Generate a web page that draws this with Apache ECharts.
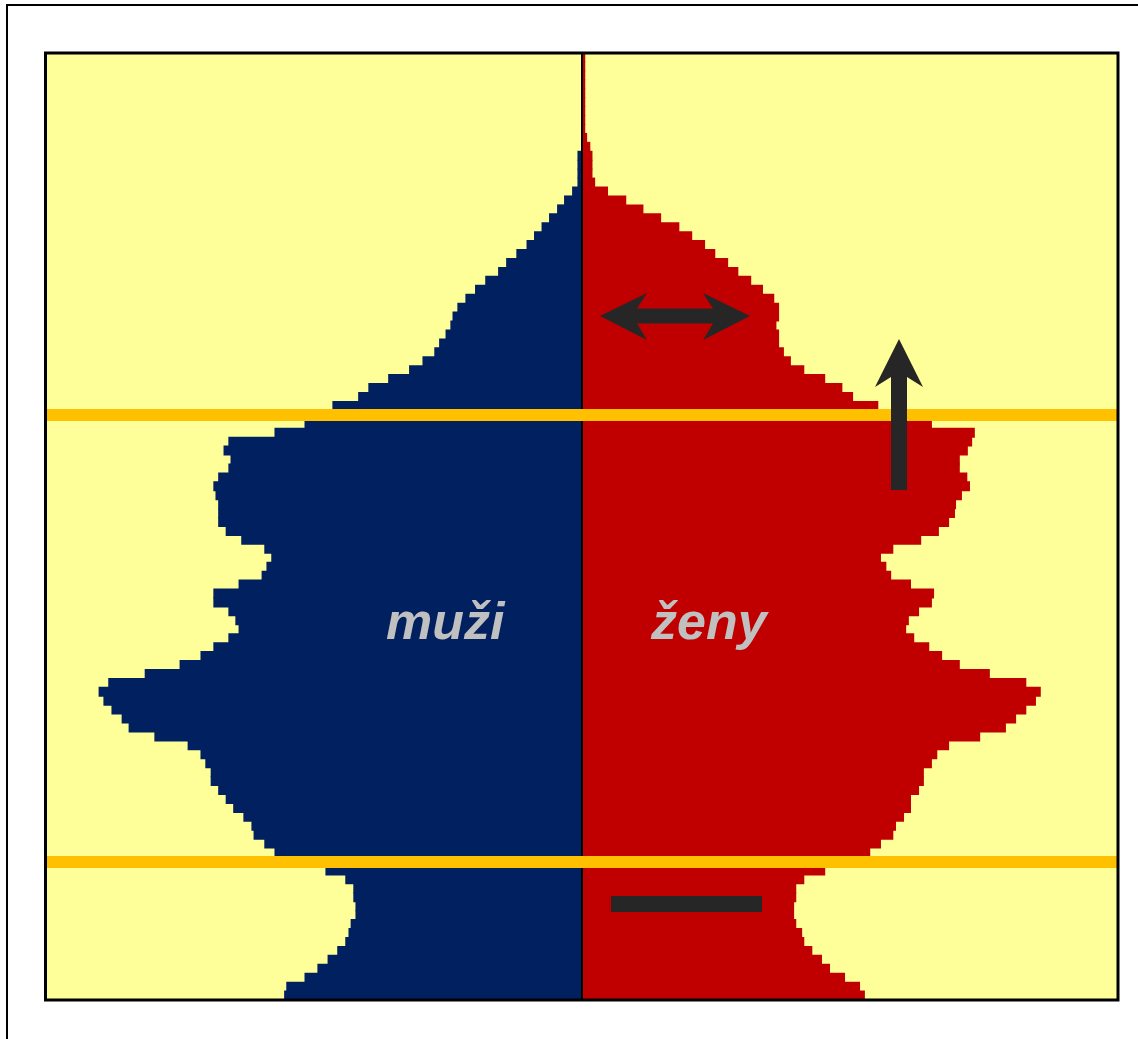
<!DOCTYPE html>
<html>
<head>
<meta charset="utf-8">
<script src="https://cdn.jsdelivr.net/npm/echarts@6/dist/echarts.min.js"></script>
<style>
  html, body { margin: 0; padding: 0; background: #ffffff; }
  #chart { width: 1138px; height: 1039px; }
</style>
</head>
<body>
<div id="chart"></div>
<script>
// Věkové skupiny 0–105 let (zdola nahoru)
const ages = [];
for (let a = 0; a <= 105; a++) ages.push(String(a));

// Počet mužů podle věku (tis. osob)
const male = [
  55.5, 55.1, 51.7, 49.3, 47.4, 45.6, 44.1, 43.5, 43.1, 42.2,
  42.2, 42.6, 42.6, 44.1, 47.8, 54.3, 57.3, 59.2, 61.2, 61.6,
  63.1, 65.0, 66.4, 67.8, 69.2, 69.2, 70.2, 71.1, 73.5, 79.7,
  84.5, 85.8, 87.7, 89.2, 90.1, 88.3, 81.5, 75.0, 71.1, 68.7,
  65.9, 64.0, 64.6, 65.9, 68.7, 68.7, 64.0, 59.7, 58.8, 57.9,
  59.2, 63.5, 66.4, 67.8, 67.8, 67.8, 68.3, 68.7, 67.8, 65.9,
  65.5, 66.8, 65.9, 57.3, 51.7, 48.7, 46.5, 41.7, 39.8, 36.1,
  32.2, 29.7, 27.5, 26.6, 25.4, 24.5, 24.1, 23.2, 21.7, 19.9,
  18.0, 15.6, 14.1, 12.2, 10.3, 8.9, 7.5, 6.1, 4.6, 3.3,
  1.8, 0.8, 0.8, 0.8, 0.8, 0, 0, 0, 0, 0,
  0, 0, 0, 0, 0, 0
];

// Počet žen podle věku (tis. osob)
const female = [
  52.8, 51.9, 49.1, 46.3, 44.8, 43.0, 41.5, 41.1, 40.0, 39.6,
  39.6, 40.0, 40.0, 41.5, 45.4, 50.0, 53.8, 55.8, 58.1, 58.6,
  60.1, 61.4, 61.4, 62.9, 63.8, 63.8, 65.3, 66.3, 68.5, 74.3,
  79.1, 81.0, 82.9, 84.7, 85.6, 82.9, 76.1, 70.5, 67.2, 64.8,
  62.0, 60.5, 61.0, 62.9, 65.3, 65.7, 61.4, 57.7, 56.8, 55.8,
  58.1, 63.3, 66.6, 68.5, 69.6, 69.8, 70.9, 72.4, 71.9, 70.5,
  70.5, 72.0, 72.8, 73.3, 65.3, 60.3, 55.3, 50.6, 48.6, 45.4,
  41.5, 39.0, 37.7, 36.8, 36.8, 36.3, 36.8, 36.8, 35.9, 33.8,
  31.6, 29.2, 27.3, 24.9, 23.0, 20.6, 18.2, 14.8, 11.5, 8.3,
  4.9, 2.5, 2.0, 2.0, 2.0, 1.6, 1.0, 0.65, 0.65, 0.65,
  0.65, 0.65, 0.65, 0.65, 0.65, 0.65
];

// Hranice produktivního věku
const boundaryAges = ['15', '65'];

const BLUE = '#002060';
const RED = '#C00000';
const ARROW = '#262626';

const GRID = { left: 45.5, right: 20, top: 53, bottom: 39 };
const chartHeight = 1039;
// výška jednoho věkového pásu + malý přesah, aby mezi sousedními pruhy nevznikaly spáry
const rowHeight = (chartHeight - GRID.top - GRID.bottom) / ages.length;
const barThickness = rowHeight + 1;

const chart = echarts.init(document.getElementById('chart'), null, { renderer: 'canvas' });

const option = {
  animation: false,
  backgroundColor: '#ffffff',
  grid: Object.assign({ show: true, backgroundColor: '#FFFF99', borderWidth: 0 }, GRID),
  xAxis: { type: 'value', min: -100, max: 100, show: false },
  yAxis: { type: 'category', data: ages, show: false, boundaryGap: true },
  series: [
    {
      name: 'muži', type: 'bar', silent: true,
      data: male.map(v => -v),
      barGap: '-100%', barWidth: barThickness,
      itemStyle: { color: BLUE }
    },
    {
      name: 'ženy', type: 'bar', silent: true,
      data: female,
      barGap: '-100%', barWidth: barThickness,
      itemStyle: { color: RED },
      markLine: {
        silent: true, symbol: ['none', 'none'], label: { show: false },
        emphasis: { disabled: true },
        data: [
          { xAxis: 0, lineStyle: { color: '#000000', width: 2, type: 'solid' } },
          ...boundaryAges.map(a => ({ yAxis: a, lineStyle: { color: '#FFC000', width: 12, type: 'solid' } }))
        ]
      }
    }
  ],
  graphic: [
    // vnější rámeček
    { type: 'rect', z: 100, shape: { x: 7, y: 5, width: 1300, height: 1300 },
      style: { fill: 'none', stroke: '#000000', lineWidth: 2 } },
    // rámeček grafu
    { type: 'rect', z: 100, shape: { x: 45.5, y: 53, width: 1072.5, height: 947 },
      style: { fill: 'none', stroke: '#000000', lineWidth: 3 } },
    // popisky pohlaví
    { type: 'text', z: 100, x: 386, y: 625,
      style: { text: 'muži', font: 'italic bold 52px "Liberation Sans", Arial, sans-serif',
               fill: '#C0C0C0', align: 'left', verticalAlign: 'middle' } },
    { type: 'text', z: 100, x: 651, y: 625,
      style: { text: 'ženy', font: 'italic bold 52px "Liberation Sans", Arial, sans-serif',
               fill: '#C0C0C0', align: 'left', verticalAlign: 'middle' } },
    // oboustranná šipka
    { type: 'polygon', z: 100,
      shape: { points: [[600, 316], [647, 293], [637, 308.5], [713, 308.5], [703, 293], [750, 316],
                        [703, 340], [713, 323.5], [637, 323.5], [647, 340]] },
      style: { fill: ARROW } },
    // šipka nahoru
    { type: 'polygon', z: 100,
      shape: { points: [[899, 339], [923, 387], [907, 377], [907, 490], [891, 490], [891, 377], [875, 387]] },
      style: { fill: ARROW } },
    // znaménko minus
    { type: 'rect', z: 100, shape: { x: 611, y: 896, width: 151, height: 16 },
      style: { fill: ARROW } }
  ]
};

chart.setOption(option);
</script>
</body>
</html>
